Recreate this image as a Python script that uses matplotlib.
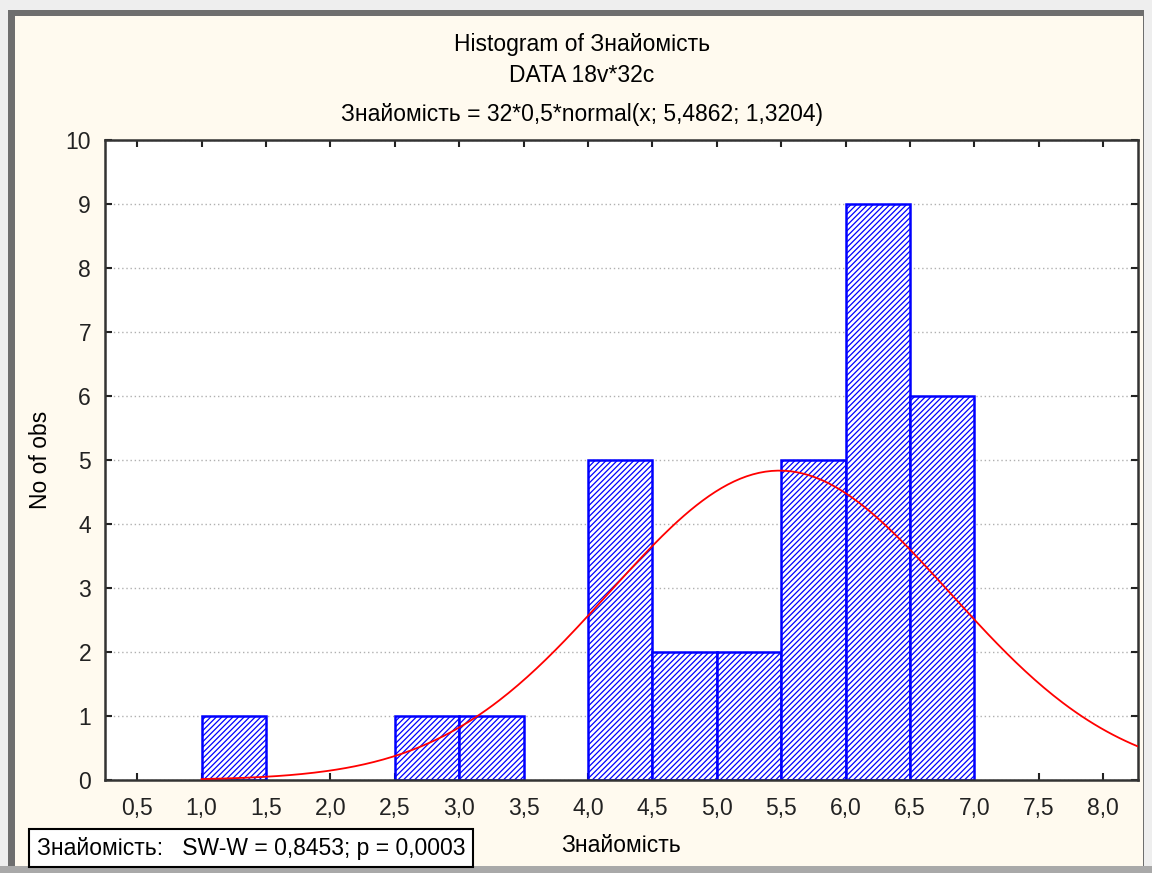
import numpy as np
import matplotlib
matplotlib.use("Agg")
import matplotlib.pyplot as plt
from matplotlib.patches import Rectangle

plt.rcParams['font.family'] = ['Liberation Sans', 'DejaVu Sans']
plt.rcParams['hatch.linewidth'] = 0.9

# histogram data (bin edges of width 0,5)
bin_left = [1.0, 2.5, 3.0, 4.0, 4.5, 5.0, 5.5, 6.0, 6.5]
counts = [1, 1, 1, 5, 2, 2, 5, 9, 6]
bin_width = 0.5

# fitted normal: 32*0,5*normal(x; 5,4862; 1,3204)
n_obs = 32
mean = 5.4862
sd = 1.3204

x_ticks = [0.5, 1.0, 1.5, 2.0, 2.5, 3.0, 3.5, 4.0, 4.5, 5.0, 5.5, 6.0, 6.5, 7.0, 7.5, 8.0]
x_tick_labels = ["0,5", "1,0", "1,5", "2,0", "2,5", "3,0", "3,5", "4,0", "4,5",
                 "5,0", "5,5", "6,0", "6,5", "7,0", "7,5", "8,0"]
y_ticks = list(range(0, 11))

FS = 16.5
W, H = 1152, 873

fig = plt.figure(figsize=(11.52, 8.73), dpi=100)
fig.patch.set_facecolor("#eeeeee")

# window-like frame around the chart (pixel boxes, y measured from the top)
def px_rect(x0, y0, x1, y1, color, z):
    fig.patches.append(Rectangle((x0 / W, 1 - y1 / H), (x1 - x0) / W, (y1 - y0) / H,
                                 transform=fig.transFigure, facecolor=color,
                                 edgecolor="none", zorder=z))

px_rect(0, 866, W, H, "#a9a9a9", -4)
px_rect(8, 10, 1144, 866, "#6e6e6e", -3)
px_rect(15, 16, 1143, 866, "#fffaef", -2)

ax = fig.add_axes([105 / W, 93 / H, 1033 / W, 640 / H])
ax.set_facecolor("white")

ax.bar(bin_left, counts, width=bin_width, align="edge", color="white",
       edgecolor="#0000ff", linewidth=1.8, hatch="//////", zorder=2)

x_max = 8.27
xs = np.linspace(bin_left[0], x_max, 300)
ys = n_obs * bin_width * np.exp(-0.5 * ((xs - mean) / sd) ** 2) / (sd * np.sqrt(2 * np.pi))
ax.plot(xs, ys, color="red", linewidth=1.3, zorder=3)

ax.set_xlim(0.25, x_max)
ax.set_ylim(0, 10)
ax.set_xticks(x_ticks)
ax.set_xticklabels(x_tick_labels)
ax.set_yticks(y_ticks)

ax.yaxis.grid(True, linestyle=(0, (1, 2)), color="#b0b0b0", linewidth=1, zorder=0)
ax.set_axisbelow(True)

ax.tick_params(direction="in", length=5, width=1.5, labelsize=FS, colors="#222222",
               top=True, right=True, pad=10)
ax.tick_params(axis="x", pad=12)
for s in ax.spines.values():
    s.set_linewidth(1.8)
    s.set_color("#333333")

ax.set_xlabel("Знайомість", fontsize=FS, labelpad=10)
ax.set_ylabel("No of obs", fontsize=FS, labelpad=28)
ax.yaxis.set_label_coords(-53 / 1033, 0.5)

fig.text(582 / W, 1 - 45 / H, "Histogram of Знайомість", ha="center", va="center", fontsize=FS)
fig.text(582 / W, 1 - 76 / H, "DATA 18v*32c", ha="center", va="center", fontsize=FS)
fig.text(582 / W, 1 - 114 / H, "Знайомість = 32*0,5*normal(x; 5,4862; 1,3204)",
         ha="center", va="center", fontsize=FS)

fig.text(251 / W, 1 - 848 / H, "Знайомість:   SW-W = 0,8453; p = 0,0003",
         ha="center", va="center", fontsize=FS,
         bbox=dict(boxstyle="square,pad=0.33", facecolor="white", edgecolor="black", linewidth=1.5))

fig.savefig("out.png", dpi=100, facecolor=fig.get_facecolor())
